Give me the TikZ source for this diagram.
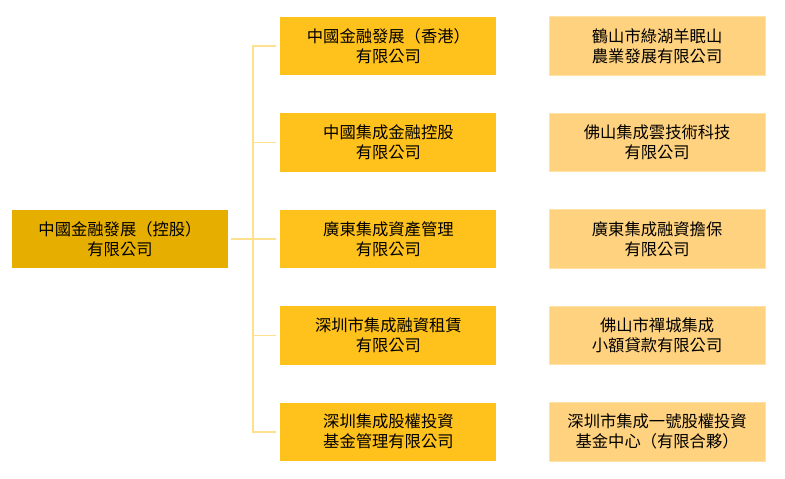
\documentclass[tikz,border=0pt]{standalone}
\usepackage{fontspec}
\newfontfamily\cjk{Noto Sans CJK TC}
\usetikzlibrary{positioning}
\definecolor{holdgold}{HTML}{E6AF00}
\definecolor{subgold}{HTML}{FFC11C}
\definecolor{assocgold}{HTML}{FFD27F}
\definecolor{assocedge}{HTML}{FFE2A6}
\definecolor{linkgold}{HTML}{FFE08E}
\tikzset{
  firm/.style={rectangle,minimum width=216bp,minimum height=58.5bp,inner sep=0pt,
    align=center,font=\cjk\fontsize{16.3bp}{20bp}\selectfont},
  parent/.style={firm,fill=holdgold},
  subsid/.style={firm,fill=subgold},
  assoc/.style={firm,fill=assocgold,draw=assocedge,line width=1bp},
  link/.style={draw=linkgold,line width=1.5bp}
}
\begin{document}
\begin{tikzpicture}[x=1bp,y=1bp,node distance=37.5bp and 52bp]
\useasboundingbox (0,0) rectangle (785,-479);
\node[parent] (hold) at (120,-239) {中國金融發展（控股）\\有限公司};
\node[subsid] (m3) [right=of hold] {廣東集成資產管理\\有限公司};
\node[subsid] (m2) [above=of m3] {中國集成金融控股\\有限公司};
\node[subsid] (m1) [above=of m2] {中國金融發展（香港）\\有限公司};
\node[subsid] (m4) [below=of m3] {深圳市集成融資租賃\\有限公司};
\node[subsid] (m5) [below=of m4] {深圳集成股權投資\\基金管理有限公司};
\node[assoc] (r1) [right=of m1] {鶴山市綠湖羊眠山\\農業發展有限公司};
\node[assoc] (r2) [right=of m2] {佛山集成雲技術科技\\有限公司};
\node[assoc] (r3) [right=of m3] {廣東集成融資擔保\\有限公司};
\node[assoc] (r4) [right=of m4] {佛山市禪城集成\\小額貸款有限公司};
\node[assoc] (r5) [right=of m5] {深圳市集成一號股權投資\\基金中心（有限合夥）};

\coordinate[right=25bp of hold.east] (bus);
\draw[link,shorten <=3bp] (hold.east) -- (bus);
\draw[link,shorten <=4bp,shorten >=4bp] (m1.west) -- (bus |- m1.west) -- (bus |- m5.west) -- (m5.west);
\foreach \i in {2,3,4}
  \draw[link,shorten >=4bp] (bus |- m\i.west) -- (m\i.west);
\end{tikzpicture}
\end{document}
